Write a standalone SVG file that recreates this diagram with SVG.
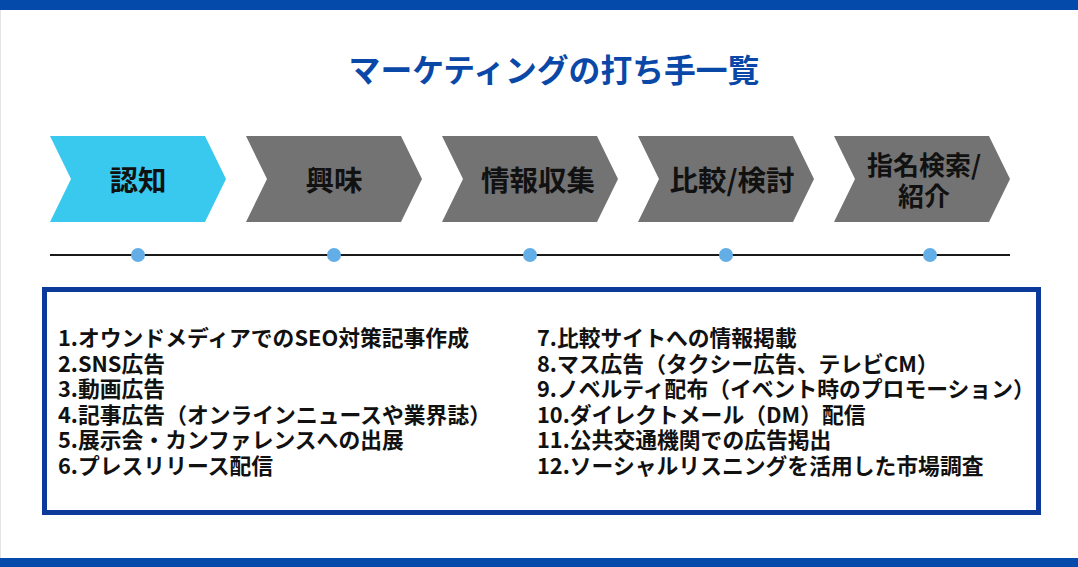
<svg xmlns="http://www.w3.org/2000/svg" width="1078" height="567" viewBox="0 0 1078 567">
<style>
.bar{fill:#044aab}
.title{font-family:"Noto Sans CJK JP","Noto Sans",sans-serif;font-weight:700;font-size:31.8px;fill:#0a48a8}
.chev{stroke:none}
.c1{fill:#39c9ef}
.cg{fill:#737373}
.lbl{font-family:"Noto Sans CJK JP","Noto Sans",sans-serif;font-weight:700;font-size:28.5px;fill:#111;text-anchor:middle}
.lbl2{font-size:26px}
.dot{fill:#63aee6}
.item{font-family:"Noto Sans CJK JP","Noto Sans",sans-serif;font-weight:700;font-size:21.8px;fill:#111}
</style>
<rect x="0" y="0" width="1078" height="567" fill="#ffffff"/>
<line x1="0.5" y1="10" x2="0.5" y2="558" stroke="#e4e4e4" stroke-width="1"/>
<rect class="bar" x="0" y="0" width="1078" height="10"/>
<rect class="bar" x="0" y="558" width="1078" height="9"/>
<text class="title" x="554" y="82" text-anchor="middle">マーケティングの打ち手一覧</text>

<g id="node-1">
<polygon class="chev c1" points="50,136 205,136 226,179 205,222 50,222 71,179"/>
<text class="lbl" x="138" y="191">認知</text>
</g>
<g id="node-2">
<polygon class="chev cg" points="246,136 401,136 422,179 401,222 246,222 267,179"/>
<text class="lbl" x="334" y="191">興味</text>
</g>
<g id="node-3">
<polygon class="chev cg" points="442,136 597,136 618,179 597,222 442,222 463,179"/>
<text class="lbl" x="538" y="191">情報収集</text>
</g>
<g id="node-4">
<polygon class="chev cg" points="638,136 793,136 814,179 793,222 638,222 659,179"/>
<text class="lbl" x="732" y="191">比較/検討</text>
</g>
<g id="node-5">
<polygon class="chev cg" points="834,136 989,136 1010,179 989,222 834,222 855,179"/>
<text class="lbl lbl2" x="924" y="175">指名検索/</text>
<text class="lbl lbl2" x="924" y="206">紹介</text>
</g>

<g id="connectors">
<line x1="50" y1="255" x2="1010" y2="255" stroke="#1a1a1a" stroke-width="2"/>
<circle class="dot" cx="138" cy="255" r="7"/>
<circle class="dot" cx="334" cy="255" r="7"/>
<circle class="dot" cx="530" cy="255" r="7"/>
<circle class="dot" cx="726" cy="255" r="7"/>
<circle class="dot" cx="930" cy="255" r="7"/>
</g>

<g id="list-box">
<rect x="44.5" y="289.5" width="994" height="223" fill="#ffffff" stroke="#0b3a9a" stroke-width="5"/>
<text class="item" x="58" y="346">1.オウンドメディアでのSEO対策記事作成</text>
<text class="item" x="58" y="371.5">2.SNS広告</text>
<text class="item" x="58" y="397">3.動画広告</text>
<text class="item" x="58" y="422.5">4.記事広告（オンラインニュースや業界誌）</text>
<text class="item" x="58" y="448">5.展示会・カンファレンスへの出展</text>
<text class="item" x="58" y="473.5">6.プレスリリース配信</text>
<text class="item" x="537" y="346">7.比較サイトへの情報掲載</text>
<text class="item" x="537" y="371.5">8.マス広告（タクシー広告、テレビCM）</text>
<text class="item" x="537" y="397">9.ノベルティ配布（イベント時のプロモーション）</text>
<text class="item" x="537" y="422.5">10.ダイレクトメール（DM）配信</text>
<text class="item" x="537" y="448">11.公共交通機関での広告掲出</text>
<text class="item" x="537" y="473.5">12.ソーシャルリスニングを活用した市場調査</text>
</g>
</svg>
